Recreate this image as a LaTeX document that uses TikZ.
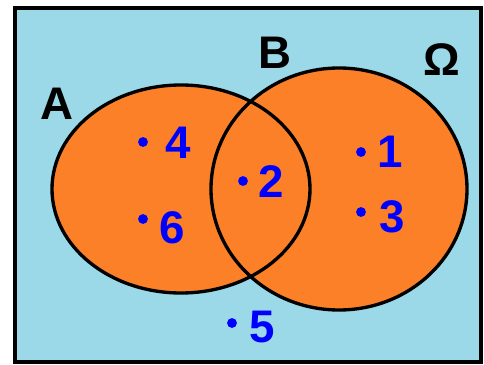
\documentclass[tikz,border=0pt]{standalone}
\usepackage{fontspec}
\setmainfont{Liberation Sans}
\usetikzlibrary{positioning}
\definecolor{skyback}{RGB}{155,216,232}
\definecolor{setorange}{RGB}{252,128,40}
\definecolor{ptblue}{RGB}{0,0,255}

\begin{document}
\begin{tikzpicture}[x=0.02cm, y=-0.02cm,
		setline/.style={draw=black, line width=1.9pt},
		setname/.style={font=\fontsize{26}{26}\selectfont\bfseries, text=black},
		pt/.style={circle, fill=ptblue, inner sep=0pt, minimum size=5.6pt},
		ptlabel/.style={font=\fontsize{26}{26}\selectfont\bfseries, text=ptblue, inner sep=0pt}
	]
		\useasboundingbox (0,0) rectangle (484,365);
		\draw[fill=skyback, line width=2.2pt] (15,8) rectangle (481,362);
		% the two sets
		\fill[setorange] (181,189) ellipse [x radius=129, y radius=104];
		\fill[setorange] (339,189) ellipse [x radius=128, y radius=121];
		\draw[setline] (181,189) ellipse [x radius=129, y radius=104];
		\draw[setline] (339,189) ellipse [x radius=128, y radius=121];
		\node[setname] (nameA) at (57,104) {A};
		\node[setname] (nameB) at (275,53) {B};
		\node[setname] (nameOm) at (442,60) {Ω};
		% elements
		\foreach \n/\px/\py/\lx/\ly in {4/143/142/178/143, 6/143/219/172/228,
				2/243/181/271/182, 1/361/152/390/152, 3/361/212/392/217, 5/232/323/262/327} {
			\node[pt] (p\n) at (\px,\py) {};
			\node[ptlabel] (l\n) at (\lx,\ly) {\n};
		}
	\end{tikzpicture}
\end{document}
